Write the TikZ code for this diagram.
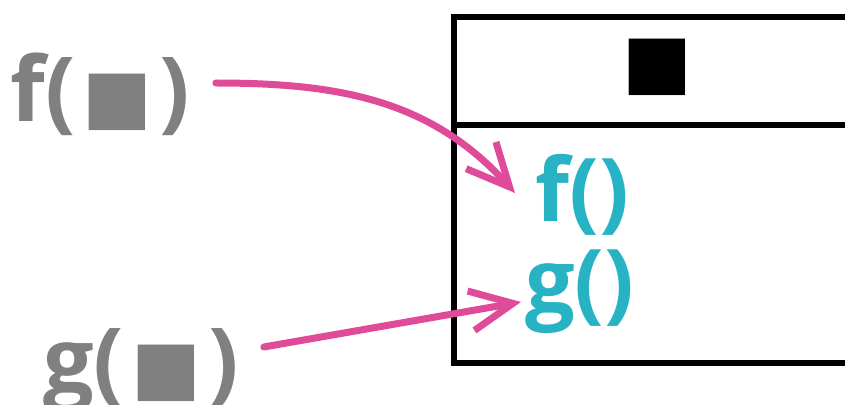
\documentclass[tikz,border=0pt]{standalone}
\usepackage{fontspec}
\setmainfont{Open Sans}
\newfontfamily\symfont{DejaVu Sans}
\usetikzlibrary{arrows.meta}
\definecolor{callgray}{HTML}{808080}
\definecolor{defcyan}{HTML}{27B3C3}
\definecolor{linkpink}{HTML}{DF4A99}
\newcommand{\blksq}{{\symfont\fontsize{42}{46}\selectfont ■}}
\tikzset{
	callnode/.style={inner sep=0pt, anchor=base west, text=callgray, font=\fontsize{51}{56}\selectfont\bfseries},
	defnode/.style={inner sep=0pt, anchor=base west, text=defcyan, font=\fontsize{50}{56}\selectfont\bfseries},
	link/.style={draw=linkpink, line width=0.14cm, line cap=round, -{Straight Barb[length=0.85cm, width=0.8cm]}},
	frame/.style={line width=0.13cm}
}

\begin{document}
\begin{tikzpicture}[x=0.02cm, y=-0.02cm]
		%%%%% START %%%%%
		\useasboundingbox (0, 0) rectangle (845, 405);
		\clip (0, 0) rectangle (845, 405);
		
		% the object box, cut at the right
		\draw[frame] (880, 17) -- (454, 17) -- (454, 363) -- (880, 363);
		\draw[frame] (454, 125) -- (880, 125);
		\node[inner sep=0pt] (state) at (657, 67) {\blksq};
		
		\node[defnode] (fdef) at (535, 222) {f()};
		\node[defnode] (gdef) at (525, 312) {g()};
		
		\node[callnode] (fcall) at (10, 122) {f(\hspace{4pt}\blksq\hspace{4pt})};
		\node[callnode] (gcall) at (43, 392) {g(\hspace{4pt}\blksq\hspace{4pt})};
		
		\draw[link] ([shift={(26, -39)}]fcall.base east) to[out=0, in=132] ([shift={(-20, -29)}]fdef.base west);
		\draw[link] ([shift={(25, -45)}]gcall.base east) -- ([shift={(-4, -10)}]gdef.base west);
		
		%%%%% END %%%%%
	\end{tikzpicture}
\end{document}
